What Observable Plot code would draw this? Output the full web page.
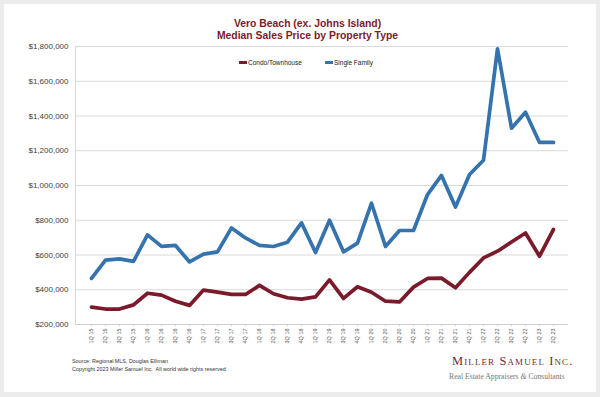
<!DOCTYPE html>
<html><head><meta charset="utf-8">
<script src="https://cdn.jsdelivr.net/npm/d3@7"></script>
<script src="https://cdn.jsdelivr.net/npm/@observablehq/plot@0.6"></script>
<style>
html,body{margin:0;padding:0;background:#ececec;width:600px;height:397px;overflow:hidden;font-family:"Liberation Sans",Arial,sans-serif}
#card{position:absolute;left:4px;top:4px;width:592px;height:388px;background:#fff}
#chart{position:absolute;left:0;top:0}
#title{position:absolute;left:0;top:18px;width:615px;text-align:center;font-weight:bold;font-size:10.4px;line-height:12.3px;color:#7b1c2b}
.leg{position:absolute;font-size:6.5px;color:#222;line-height:8px;white-space:nowrap}
.sw{display:inline-block;width:8px;height:2.5px;vertical-align:middle;margin-right:1px;position:relative;top:-0.5px}
#foot{position:absolute;left:72px;top:357px;font-size:5.4px;line-height:8.3px;color:#333;white-space:nowrap}
#logo1{position:absolute;left:452px;top:354px;font-family:"Liberation Serif","Times New Roman",serif;font-variant:small-caps;font-size:12.5px;letter-spacing:1.1px;color:#7a1f2c;white-space:nowrap}
#logo2{position:absolute;left:449px;top:372px;font-family:"Liberation Serif","Times New Roman",serif;font-size:7.7px;color:#777;white-space:nowrap}
</style></head>
<body>
<div id="card"></div>
<div id="chart"></div>
<div id="title">Vero Beach (ex. Johns Island)<br>Median Sales Price by Property Type</div>
<div class="leg" style="left:239px;top:58.7px"><span class="sw" style="background:#7a1a2b"></span>Condo/Townhouse</div>
<div class="leg" style="left:325px;top:58.7px"><span class="sw" style="background:#3473ad"></span>Single Family</div>
<div id="foot">Source: Regional MLS, Douglas Elliman<br>Copyright 2023 Miller Samuel Inc.&nbsp; All world wide rights reserved.</div>
<div id="logo1">Miller Samuel Inc.</div>
<div id="logo2">Real Estate Appraisers <i>&amp;</i> Consultants</div>
<script>
const quarters = ["1Q 15","2Q 15","3Q 15","4Q 15","1Q 16","2Q 16","3Q 16","4Q 16","1Q 17","2Q 17","3Q 17","4Q 17","1Q 18","2Q 18","3Q 18","4Q 18","1Q 19","2Q 19","3Q 19","4Q 19","1Q 20","2Q 20","3Q 20","4Q 20","1Q 21","2Q 21","3Q 21","4Q 21","1Q 22","2Q 22","3Q 22","4Q 22","1Q 23","2Q 23"];
const condo = [300000,289000,289000,313000,380000,369000,334000,310000,398000,386000,373000,373000,425000,377000,354000,346000,359000,457000,350000,417000,386000,334000,330000,415000,465000,467000,411000,500000,583000,622000,675000,727000,593000,747000];
const singleFamily = [465000,570000,578000,563000,716000,650000,655000,560000,605000,618000,756000,698000,655000,649000,674000,785000,614000,800000,618000,668000,898000,649000,741000,741000,948000,1058000,876000,1063000,1145000,1787000,1330000,1422000,1248000,1248000];
const seriesNames = ["Condo/Townhouse","Single Family"];
const seriesColors = ["#7a1a2b","#3473ad"];
const yTicks = [200000,400000,600000,800000,1000000,1200000,1400000,1600000,1800000];

const data = quarters.flatMap((q,i)=>[
  {q, type: seriesNames[0], v: condo[i]},
  {q, type: seriesNames[1], v: singleFamily[i]}
]);

const chart = Plot.plot({
  width: 600, height: 397,
  marginTop: 46, marginBottom: 73, marginLeft: 75, marginRight: 32,
  style: {background: "transparent", fontFamily: "'Liberation Sans', Arial, sans-serif"},
  x: {type: "point", domain: quarters, padding: 0.5},
  y: {domain: [200000, 1800000]},
  color: {domain: seriesNames, range: seriesColors},
  marks: [
    Plot.gridY(yTicks, {stroke: "#d9d9d9", strokeOpacity: 1}),
    Plot.frame({anchor: "left", stroke: "#d9d9d9"}),
    Plot.ruleY([200000], {stroke: "#cfcfcf"}),
    Plot.axisY(yTicks, {tickSize: 0, tickPadding: 7, fontSize: 8, fill: "#404040", label: null,
      tickFormat: d => "$" + d3.format(",")(d)}),
    Plot.axisX({tickRotate: -90, tickSize: 2, tickPadding: 2, fontSize: 5.5, fill: "#555", stroke: "#cfcfcf", label: null}),
    Plot.line(data, {x: "q", y: "v", z: "type", stroke: "type", strokeWidth: 3.7, strokeLinejoin: "round", strokeLinecap: "round"})
  ]
});
document.getElementById("chart").appendChild(chart);
</script>
</body></html>
